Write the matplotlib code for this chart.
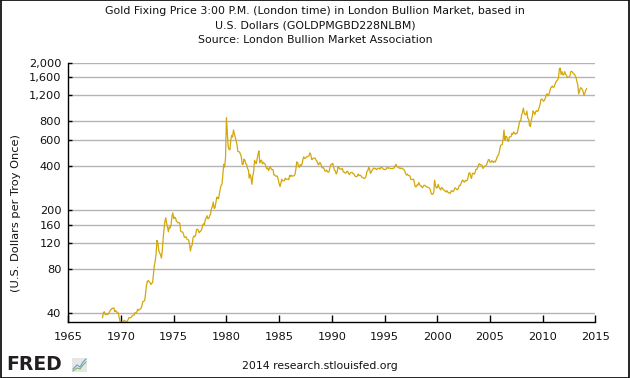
import matplotlib
matplotlib.use("Agg")
import matplotlib.pyplot as plt
import matplotlib.ticker as mticker
from matplotlib.patches import Rectangle
from matplotlib.lines import Line2D
import numpy as np
import pandas as pd

# Monthly gold fixing price (USD / troy oz), starting April 1968
start_month = "1968-04"
prices_1968_1979 = [
    37.5, 40.5, 41.1, 39.5, 39.2, 39.8, 39.4, 40.0, 41.1,
    42.3, 42.5, 43.4, 43.3, 43.6, 41.2, 41.8, 41.0, 40.6, 40.3, 37.4, 35.2,
    34.9, 35.0, 35.1, 35.6, 35.9, 35.4, 35.3, 35.4, 36.2, 37.5, 37.4, 37.4,
    37.9, 38.7, 38.9, 39.0, 40.5, 40.1, 41.0, 42.7, 42.0, 42.5, 42.9, 43.5,
    45.8, 48.3, 48.3, 49.0, 54.6, 62.1, 65.7, 67.0, 65.5, 64.9, 62.9, 63.9,
    65.1, 74.2, 84.4, 90.5, 102.0, 125.0, 120.2, 106.8, 103.0, 100.1, 94.8, 106.7,
    129.2, 150.2, 168.4, 178.0, 163.3, 154.1, 143.0, 154.6, 151.8, 158.8, 181.7, 192.0,
    175.8, 179.6, 178.1, 170.0, 167.0, 164.2, 165.2, 163.1, 144.1, 142.8, 142.8, 139.3,
    131.6, 131.1, 132.6, 127.9, 126.9, 125.7, 117.7, 106.0, 114.1, 116.0, 130.3, 133.9,
    132.3, 136.2, 148.2, 149.2, 146.9, 140.8, 143.4, 144.9, 149.6, 158.9, 162.3, 160.5,
    173.1, 178.2, 183.7, 175.3, 176.3, 183.7, 188.6, 206.1, 212.4, 227.3, 206.0, 207.8,
    227.3, 245.7, 242.1, 239.2, 257.6, 279.1, 294.7, 300.8, 355.1, 410.0, 392.5, 455.1,
]
prices_1980_1989 = [
    850.0, 665.3, 540.0, 517.4, 513.8, 600.7, 644.3, 626.5, 700.0, 661.1, 623.5, 594.9,
    557.4, 500.2, 499.8, 495.8, 479.7, 460.8, 409.3, 410.0, 444.6, 437.8, 413.4, 410.1,
    384.1, 374.2, 330.2, 350.5, 333.9, 300.0, 339.5, 364.4, 436.3, 422.7, 414.5, 445.3,
    481.6, 505.0, 419.7, 432.5, 437.7, 412.9, 422.7, 416.2, 411.9, 394.3, 381.7, 388.0,
    370.9, 386.8, 394.1, 381.2, 377.5, 377.5, 347.7, 347.7, 341.1, 340.2, 341.2, 320.2,
    302.8, 290.0, 304.0, 324.6, 316.6, 316.9, 317.6, 330.4, 323.5, 325.3, 325.3, 322.4,
    345.4, 338.9, 345.7, 340.4, 342.5, 342.7, 348.4, 376.6, 425.0, 423.3, 398.1, 391.3,
    408.3, 401.1, 408.9, 438.4, 460.2, 449.6, 450.5, 461.1, 460.4, 465.4, 467.7, 490.0,
    477.8, 442.1, 443.6, 452.1, 451.3, 451.6, 437.4, 431.4, 413.1, 406.3, 420.2, 418.7,
    404.0, 387.8, 390.2, 384.3, 371.0, 367.6, 375.0, 365.4, 362.0, 366.7, 394.4, 409.4,
]
prices_1990_1999 = [
    410.1, 416.8, 393.1, 374.3, 369.1, 352.3, 362.5, 395.0, 389.3, 380.7, 381.9, 378.2,
    383.6, 363.8, 363.3, 358.4, 356.8, 366.7, 367.7, 356.3, 348.7, 358.7, 360.1, 361.7,
    354.5, 353.9, 344.3, 338.6, 337.2, 340.8, 352.7, 343.2, 345.4, 344.4, 335.0, 334.7,
    329.0, 329.3, 330.1, 342.2, 367.2, 371.3, 392.0, 379.8, 355.3, 364.2, 373.8, 383.3,
    387.0, 381.9, 384.1, 377.3, 381.4, 385.6, 385.5, 380.4, 391.6, 389.8, 384.4, 379.3,
    378.6, 376.5, 382.1, 391.0, 385.3, 387.6, 386.2, 383.8, 383.1, 383.1, 385.5, 387.0,
    400.0, 410.0, 396.2, 392.9, 391.9, 385.3, 383.5, 387.5, 383.1, 381.1, 377.9, 369.0,
    355.0, 346.6, 351.8, 344.5, 343.8, 340.8, 324.1, 323.9, 322.8, 324.9, 306.0, 288.7,
    289.1, 297.5, 295.9, 308.4, 299.1, 292.3, 292.9, 284.1, 289.0, 296.1, 294.1, 291.6,
    287.1, 287.3, 285.9, 282.6, 276.4, 261.3, 256.1, 256.7, 265.0, 320.0, 293.2, 283.1,
]
prices_2000_2014 = [
    284.6, 299.9, 286.4, 280.0, 275.3, 285.7, 281.6, 274.5, 273.7, 270.0, 266.0, 271.5,
    265.5, 261.9, 263.0, 260.5, 272.4, 270.2, 267.5, 272.4, 283.4, 283.1, 276.2, 275.9,
    281.5, 295.5, 294.0, 302.7, 314.5, 321.2, 313.3, 310.3, 319.2, 316.6, 319.2, 333.4,
    356.9, 359.0, 340.6, 328.2, 355.7, 356.4, 351.0, 359.8, 378.9, 378.9, 389.9, 407.6,
    414.0, 405.3, 406.7, 403.0, 383.8, 392.4, 398.1, 400.5, 405.3, 420.5, 439.4, 442.1,
    424.0, 423.4, 434.2, 428.9, 421.9, 430.7, 424.5, 437.9, 456.0, 469.9, 476.7, 510.1,
    549.9, 555.0, 557.1, 610.6, 700.0, 596.2, 633.8, 632.6, 598.2, 585.8, 627.8, 629.8,
    631.2, 664.8, 654.9, 679.4, 666.9, 655.5, 665.3, 665.4, 712.7, 754.6, 806.3, 803.2,
    889.6, 922.3, 985.0, 909.7, 888.7, 889.5, 939.8, 839.0, 829.9, 750.0, 740.0, 816.1,
    858.7, 943.2, 924.3, 890.2, 928.6, 945.7, 934.2, 949.4, 996.6, 1043.2, 1127.0, 1134.7,
    1118.0, 1095.4, 1113.3, 1148.7, 1205.4, 1232.9, 1193.0, 1215.8, 1271.0, 1342.0, 1369.9, 1390.6,
    1356.4, 1372.7, 1424.0, 1473.8, 1510.4, 1528.7, 1572.8, 1820.0, 1840.0, 1665.2, 1739.0, 1652.3,
    1656.1, 1742.6, 1673.8, 1650.1, 1585.5, 1596.7, 1593.9, 1626.0, 1744.5, 1746.6, 1721.6, 1684.8,
    1671.9, 1627.6, 1593.1, 1487.9, 1414.0, 1230.0, 1285.5, 1351.7, 1348.6, 1316.6, 1275.9, 1200.0,
    1244.3, 1301.0, 1336.1,
]

y_ticks = [40, 80, 120, 160, 200, 400, 600, 800, 1200, 1600, 2000]
x_ticks = list(range(1965, 2016, 5))

prices = prices_1968_1979 + prices_1980_1989 + prices_1990_1999 + prices_2000_2014
dates = pd.date_range(start_month, periods=len(prices), freq="MS")
years = dates.year + (dates.dayofyear - 1) / 365.25

fig = plt.figure(figsize=(6.3, 3.78), dpi=100)
ax = fig.add_axes([0.1084, 0.1481, 0.8367, 0.6860])

ax.plot(years, prices, color="#D2A80A", linewidth=0.9)

ax.set_yscale("log")
ax.set_ylim(35, 2000)
ax.set_xlim(1965, 2015)
ax.yaxis.set_major_locator(mticker.FixedLocator(y_ticks))
ax.yaxis.set_major_formatter(mticker.FuncFormatter(lambda v, p: f"{v:,.0f}"))
ax.yaxis.set_minor_locator(mticker.NullLocator())
ax.set_xticks(x_ticks)
ax.set_xticklabels([str(x) for x in x_ticks])

ax.grid(True, axis="y", color="#b4b4b4", linewidth=1.0)
ax.set_axisbelow(True)
for side in ("top", "right"):
    ax.spines[side].set_visible(False)
for side in ("left", "bottom"):
    ax.spines[side].set_color("black")
    ax.spines[side].set_linewidth(1.0)
ax.tick_params(axis="both", direction="in", colors="black", labelsize=8.2,
               labelcolor="#111111", width=1)
ax.tick_params(axis="x", length=5, pad=7)
ax.tick_params(axis="y", length=3, pad=5)

ax.set_ylabel("(U.S. Dollars per Troy Once)", fontsize=8.2, color="#111111")
ax.yaxis.set_label_coords(-0.09, 0.42)

# Titles and footer
title_lines = [
    "Gold Fixing Price 3:00 P.M. (London time) in London Bullion Market, based in",
    "U.S. Dollars (GOLDPMGBD228NLBM)",
    "Source: London Bullion Market Association",
]
for i, line in enumerate(title_lines):
    fig.text(0.5, 1 - (11 + 14.5 * i) / 378, line, ha="center", va="center",
             fontsize=7.9, color="#111111")
fig.text(320 / 630, 1 - 366 / 378, "2014 research.stlouisfed.org", ha="center",
         va="center", fontsize=7.8, color="#111111")

# FRED logo
fig.text(6 / 630, 1 - 364 / 378, "FRED", ha="left", va="center", fontsize=13.5,
         fontweight="bold", family="DejaVu Sans", color="#231f20")
fig.patches.append(Rectangle((72 / 630, 1 - 372 / 378), 15 / 630, 14 / 378,
                             transform=fig.transFigure, facecolor="#e6e6e6",
                             edgecolor="none"))
fig.lines.append(Line2D(np.array([73, 77, 80, 83, 86]) / 630,
                        1 - np.array([369, 365, 367, 362, 359]) / 378,
                        transform=fig.transFigure, color="#6a9fc8", linewidth=0.8))
fig.lines.append(Line2D(np.array([73, 77, 80, 83, 86]) / 630,
                        1 - np.array([371, 368, 369, 365, 362]) / 378,
                        transform=fig.transFigure, color="#7bb36a", linewidth=0.8))

# outer border
fig.patches.append(Rectangle((0.0008, 0.0013), 0.9984, 0.9974, transform=fig.transFigure,
                             facecolor="none", edgecolor="black", linewidth=1.2))

fig.savefig("out.png", dpi=100)
